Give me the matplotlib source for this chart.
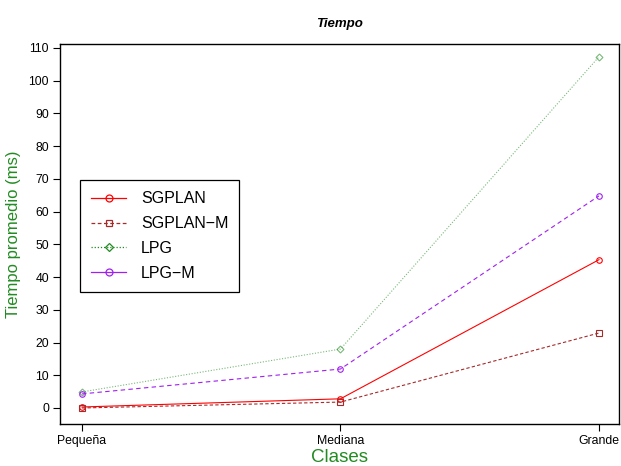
import matplotlib.pyplot as plt
from matplotlib.lines import Line2D

plt.rcParams['font.family'] = ['Liberation Sans', 'DejaVu Sans']

# Datos: tiempo promedio por clase de problema
clases = ['Pequeña', 'Mediana', 'Grande']
sgplan = [0.3, 2.8, 45.3]
sgplan_m = [0.0, 1.8, 22.9]
lpg = [4.9, 18.0, 107.3]
lpg_m = [4.3, 11.9, 64.8]
y_ticks = list(range(0, 111, 10))

x = list(range(len(clases)))

fig = plt.figure(figsize=(6.21, 4.66), dpi=100)
ax = fig.add_axes([0.0966, 0.0901, 0.9, 0.8155])

series = [
    ('SGPLAN', sgplan, 'red', '-', 'o', '-'),
    ('SGPLAN\u2212M', sgplan_m, '#A52A2A', (0, (3, 2)), 's', (0, (3, 2))),
    ('LPG', lpg, '#228B22', (0, (1, 1.5)), 'D', (0, (1, 1.5))),
    ('LPG\u2212M', lpg_m, '#A020F0', (0, (4, 3)), 'o', '-'),
]

handles = []
for nombre, vals, color, ls, mk, ls_ley in series:
    alpha = 0.6 if nombre == 'LPG' else 1.0
    ax.plot(x, vals, color=color, linestyle=ls, linewidth=0.8, alpha=alpha,
            marker=mk, markersize=4 if mk != 'D' else 3.5,
            markerfacecolor='none', markeredgewidth=0.8)
    handles.append(Line2D([], [], color=color, linestyle=ls_ley, linewidth=0.9,
                          marker=mk, markersize=5 if mk != 'D' else 4.5,
                          markerfacecolor='none', markeredgewidth=0.9,
                          label=nombre))

ax.set_xlim(-0.085, 2.077)
ax.set_ylim(-4.9, 111.2)
ax.set_xticks(x)
ax.set_xticklabels(clases, fontsize=8.8)
ax.set_yticks(y_ticks)
ax.set_yticklabels([str(v) for v in y_ticks], fontsize=8.8)
ax.tick_params(direction='out', length=5, width=0.8, color='black', pad=3)

for s in ax.spines.values():
    s.set_linewidth(1.0)

ax.set_title('Tiempo', fontsize=9.5, fontweight='bold', style='italic', pad=12)
ax.set_xlabel('Clases', color='#228B22', fontsize=13.5, labelpad=1)
ax.set_ylabel('Tiempo promedio (ms)', color='#228B22', fontsize=12, labelpad=5)

leg = ax.legend(handles=handles, loc='upper left', bbox_to_anchor=(0.036, 0.642),
                fontsize=11.5, frameon=True, fancybox=False, edgecolor='black',
                framealpha=1, borderpad=0.7, labelspacing=0.62,
                handlelength=2.2, handletextpad=0.9, borderaxespad=0)
leg.get_frame().set_linewidth(0.9)

fig.savefig('out.png', dpi=100)
